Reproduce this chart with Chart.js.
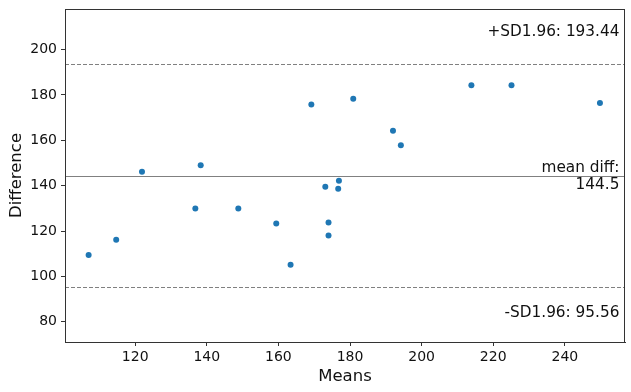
<!DOCTYPE html>
<html>
<head>
<meta charset="utf-8">
<script src="https://cdn.jsdelivr.net/npm/chart.js@4.4.1/dist/chart.umd.min.js"></script>
<style>
  html, body { margin: 0; padding: 0; background: #fff; }
  #wrap { width: 631px; height: 392px; }
</style>
</head>
<body>
<div id="wrap"><canvas id="myChart" width="631" height="392"></canvas></div>
<script>
// Bland-Altman: means (x) vs differences (y)
const means = [107.0, 114.7, 121.9, 138.3, 136.8, 148.8, 159.4, 163.4, 173.1, 176.9,
               176.7, 174.0, 174.0, 169.2, 180.9, 192.0, 194.2, 213.9, 225.1, 249.8];
const diffs = [109.4, 116.2, 146.1, 149.0, 129.9, 129.9, 123.3, 105.2, 139.5, 142.2,
               138.7, 123.8, 118.0, 175.8, 178.3, 164.2, 157.8, 184.3, 184.3, 176.5];

const meanDiff = 144.5;
const upperLimit = 193.44;
const lowerLimit = 95.56;
const sdLimit = 1.96;

const xMin = 100.4, xMax = 256.8;
const yMin = meanDiff - 1.5 * (upperLimit - meanDiff);
const yMax = meanDiff + 1.5 * (upperLimit - meanDiff);

const points = means.map((m, i) => ({ x: m, y: diffs[i] }));

const font = "'DejaVu Sans', sans-serif";

// horizontal lines, frame and annotations
const blandAltman = {
  id: "blandAltman",
  beforeDatasetsDraw(chart) {
    const ctx = chart.ctx;
    const a = chart.chartArea;
    const ys = chart.scales.y;
    ctx.save();
    ctx.strokeStyle = "gray";
    ctx.lineWidth = 1;
    let y = Math.round(ys.getPixelForValue(meanDiff)) + 0.5;
    ctx.beginPath(); ctx.moveTo(a.left, y); ctx.lineTo(a.right, y); ctx.stroke();
    ctx.setLineDash([4, 2]);
    for (const v of [upperLimit, lowerLimit]) {
      y = Math.round(ys.getPixelForValue(v)) + 0.5;
      ctx.beginPath(); ctx.moveTo(a.left, y); ctx.lineTo(a.right, y); ctx.stroke();
    }
    ctx.restore();
  },
  afterDraw(chart) {
    const ctx = chart.ctx;
    const a = chart.chartArea;
    const h = a.bottom - a.top;
    ctx.save();
    ctx.strokeStyle = "#333";
    ctx.lineWidth = 1;
    ctx.strokeRect(a.left + 0.5, a.top + 0.5, a.right - a.left - 1, a.bottom - a.top);
    ctx.fillStyle = "#111";
    ctx.font = "15.3px " + font;
    ctx.textAlign = "right";
    ctx.textBaseline = "alphabetic";
    const xr = a.right - 0.01 * (a.right - a.left);
    ctx.fillText("+SD" + sdLimit + ": " + upperLimit, xr, a.top + 0.081 * h);
    ctx.fillText("mean diff:", xr, a.top + 0.488 * h);
    ctx.fillText(String(meanDiff), xr, a.top + 0.540 * h);
    ctx.fillText("-SD" + sdLimit + ": " + lowerLimit, xr, a.top + 0.924 * h);
    ctx.restore();
  }
};

new Chart("myChart", {
  type: "scatter",
  data: {
    datasets: [{
      data: points,
      backgroundColor: "#1f77b4",
      borderColor: "#1f77b4",
      pointRadius: 3,
      pointBorderWidth: 0,
    }],
  },
  options: {
    responsive: false,
    animation: false,
    layout: { padding: { top: 9, right: 6, left: 0, bottom: 0 } },
    plugins: { legend: { display: false }, tooltip: { enabled: false } },
    scales: {
      x: {
        type: "linear",
        min: xMin,
        max: xMax,
        afterFit(s) { s.height = 50; s.paddingLeft = 0; s.paddingRight = 0; },
        afterBuildTicks(s) { s.ticks = [120, 140, 160, 180, 200, 220, 240].map(v => ({ value: v })); },
        ticks: { color: "#111", font: { family: font, size: 14 }, padding: 3 },
        grid: { drawOnChartArea: false, drawTicks: true, tickLength: 4, color: "#333" },
        border: { color: "#333" },
        title: { display: true, text: "Means", color: "#111", font: { family: font, size: 16.5 }, padding: { top: 0, bottom: 5 } },
      },
      y: {
        min: yMin,
        max: yMax,
        afterFit(s) { s.width = 65; s.paddingTop = 0; s.paddingBottom = 0; },
        afterBuildTicks(s) { s.ticks = [80, 100, 120, 140, 160, 180, 200].map(v => ({ value: v })); },
        ticks: { color: "#111", font: { family: font, size: 14 }, padding: 4 },
        grid: { drawOnChartArea: false, drawTicks: true, tickLength: 4, color: "#333" },
        border: { color: "#333" },
        title: { display: true, text: "Difference", color: "#111", font: { family: font, size: 16.5 }, padding: { top: 7, bottom: 0 } },
      },
    },
  },
  plugins: [blandAltman],
});
</script>
</body>
</html>
